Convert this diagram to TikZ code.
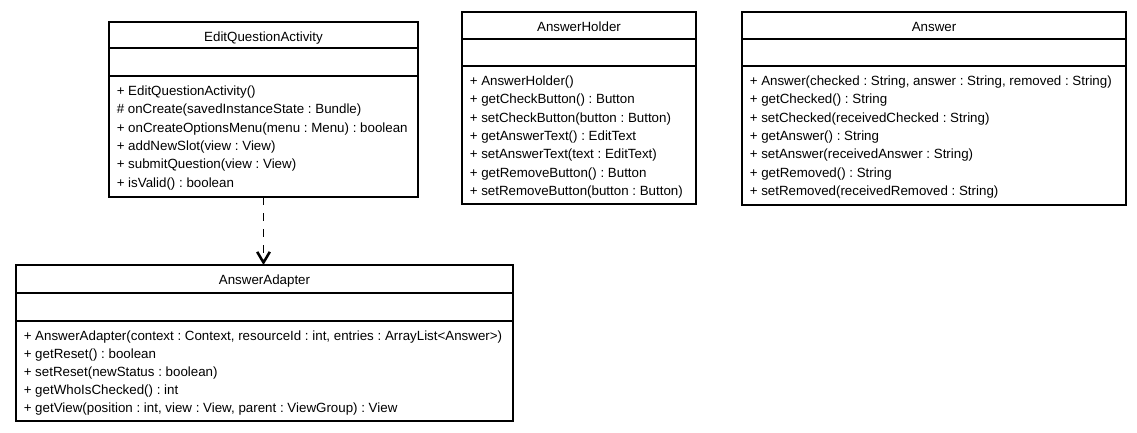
\documentclass[tikz,border=0pt]{standalone}
\usepackage{fontspec}
\setmainfont{Liberation Sans}
\frenchspacing
\usetikzlibrary{arrows.meta}
\begin{document}
\frenchspacing
\begin{tikzpicture}[x=0.75pt,y=-0.75pt,
  classbox/.style={draw=black, line width=0.9pt, inner sep=0pt, outer sep=0pt, anchor=north west},
  sepline/.style={draw=black, line width=0.9pt},
  classtitle/.style={font=\fontsize{10}{12}\selectfont, inner sep=0pt, anchor=base},
  member/.style={font=\fontsize{10}{12}\selectfont, inner sep=0pt, anchor=base west},
  dep/.style={draw=black, line width=0.9pt, dash pattern=on 6pt off 6pt,
    -{Straight Barb[length=8pt,width=9.5pt,line width=1.9pt]}}]
\useasboundingbox (0,0) rectangle (1137,432);

% EditQuestionActivity
\node[classbox, minimum width=309*0.75pt, minimum height=175*0.75pt] (eqa) at (109,22) {};
\draw[sepline] (109,48) -- (418,48);
\draw[sepline] (109,76) -- (418,76);
\node[classtitle] (eqa-t) at (263.5,41.5) {EditQuestionActivity};
\foreach \m [count=\i from 0] in {+ EditQuestionActivity(),
  \# onCreate(savedInstanceState : Bundle),
  + onCreateOptionsMenu(menu : Menu) : boolean,
  + addNewSlot(view : View),
  + submitQuestion(view : View),
  + isValid() : boolean}
  \node[member] (eqa-\i) at (116.5,95.6+18.3*\i) {\m};

% AnswerHolder
\node[classbox, minimum width=234*0.75pt, minimum height=192*0.75pt] (ah) at (462,12) {};
\draw[sepline] (462,39) -- (696,39);
\draw[sepline] (462,66) -- (696,66);
\node[classtitle] (ah-t) at (579,31.5) {AnswerHolder};
\foreach \m [count=\i from 0] in {+ AnswerHolder(),
  + getCheckButton() : Button,
  + setCheckButton(button : Button),
  + getAnswerText() : EditText,
  + setAnswerText(text : EditText),
  + getRemoveButton() : Button,
  + setRemoveButton(button : Button)}
  \node[member] (ah-\i) at (469.5,85.6+18.3*\i) {\m};

% Answer
\node[classbox, minimum width=384*0.75pt, minimum height=193*0.75pt] (ans) at (742,12) {};
\draw[sepline] (742,39) -- (1126,39);
\draw[sepline] (742,66) -- (1126,66);
\node[classtitle] (ans-t) at (934,31.5) {Answer};
\foreach \m [count=\i from 0] in {+ Answer(checked : String{,} answer : String{,} removed : String),
  + getChecked() : String,
  + setChecked(receivedChecked : String),
  + getAnswer() : String,
  + setAnswer(receivedAnswer : String),
  + getRemoved() : String,
  + setRemoved(receivedRemoved : String)}
  \node[member] (ans-\i) at (749.5,85.6+18.3*\i) {\m};

% AnswerAdapter
\node[classbox, minimum width=497*0.75pt, minimum height=156*0.75pt] (aa) at (16,265) {};
\draw[sepline] (16,293) -- (513,293);
\draw[sepline] (16,321) -- (513,321);
\node[classtitle] (aa-t) at (264.5,284.5) {AnswerAdapter};
\foreach \m [count=\i from 0] in {+ AnswerAdapter(context : Context{,} resourceId : int{,} entries : ArrayList<Answer>),
  + getReset() : boolean,
  + setReset(newStatus : boolean),
  + getWhoIsChecked() : int,
  + getView(position : int{,} view : View{,} parent : ViewGroup) : View}
  \node[member] (aa-\i) at (23.5,340.2+18*\i) {\m};

% dependency
\draw[dep] (eqa.south) -- (eqa.south |- aa.north);
\end{tikzpicture}
\end{document}
